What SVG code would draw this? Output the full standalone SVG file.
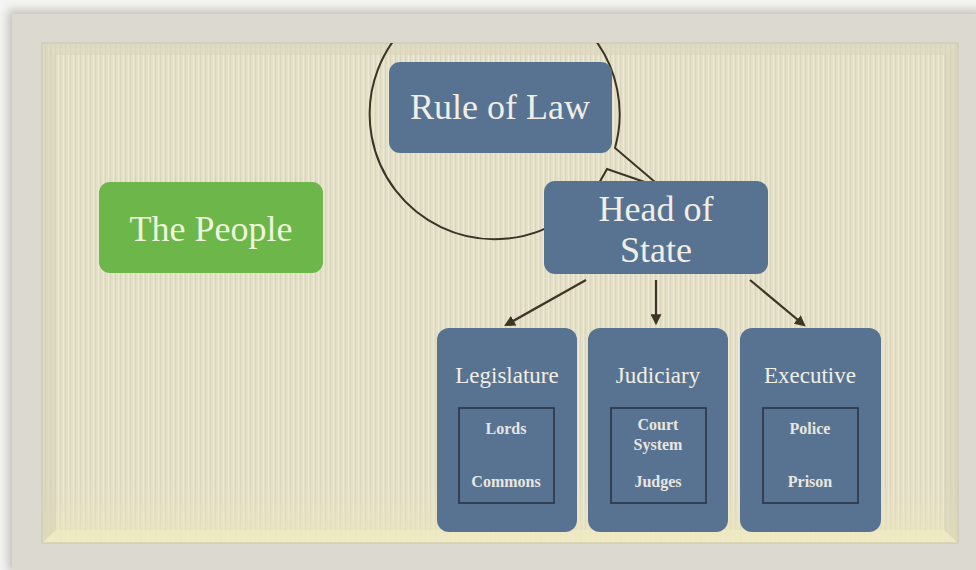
<svg xmlns="http://www.w3.org/2000/svg" width="976" height="570" viewBox="0 0 976 570">
<defs>
<style>
.box{fill:#587391;}
.inner{fill:none;stroke:#2c3442;stroke-width:1.6;}
.t{font-family:"Liberation Serif","Times New Roman",serif;fill:#f1eee6;text-anchor:middle;}
.big{font-size:36px;}
.mid{font-size:23px;}
.sm{font-size:16px;font-weight:bold;fill:#e8e6e0;}
.conn{fill:none;stroke:#3e3525;stroke-width:2.2;}
.bubble{fill:none;stroke:#3a3426;stroke-width:2;}
</style>
<pattern id="tex" width="5" height="7" patternUnits="userSpaceOnUse">
<rect width="5" height="7" fill="#e4e0c8"/>
<rect x="0" width="1" height="7" fill="#d7d3ba" opacity="0.8"/>
<rect x="3" width="1" height="7" fill="#eeebd7" opacity="0.8"/>
</pattern>
<linearGradient id="bottomGlow" x1="0" y1="0" x2="0" y2="1">
<stop offset="0" stop-color="#e7e3c4" stop-opacity="0"/>
<stop offset="1" stop-color="#ece6b8" stop-opacity="0.8"/>
</linearGradient>
<filter id="sh" x="-5%" y="-5%" width="110%" height="110%">
<feGaussianBlur stdDeviation="5"/>
</filter>
<clipPath id="canvasClip"><rect x="42" y="43" width="916" height="500"/></clipPath>
<marker id="arr" viewBox="0 0 10 10" refX="8" refY="5" markerWidth="5" markerHeight="5" orient="auto">
<path d="M0,0 L10,5 L0,10 z" fill="#3e3525"/>
</marker>
</defs>
<rect width="976" height="570" fill="#f4f4f2"/>
<rect x="8" y="10" width="975" height="562" fill="#9a978f" opacity="0.55" filter="url(#sh)"/>
<rect x="12" y="14" width="970" height="556" fill="#dcd9d0"/>
<rect x="42" y="43" width="916" height="500" fill="url(#tex)"/>
<rect x="42" y="480" width="916" height="63" fill="url(#bottomGlow)"/>
<path d="M42,43 L958,43 L944,55 L56,55 Z" fill="#d9d5bd" opacity="0.6"/>
<path d="M42,43 L56,55 L56,530 L42,543 Z" fill="#d3cfb5" opacity="0.5"/>
<path d="M958,43 L944,55 L944,530 L958,543 Z" fill="#d3cfb5" opacity="0.5"/>
<path d="M42,543 L56,530 L944,530 L958,543 Z" fill="#f0ebc4" opacity="0.7"/>
<rect x="42" y="43" width="916" height="500" fill="none" stroke="#c9c5ad" stroke-width="1"/>

<g id="bubble" clip-path="url(#canvasClip)">
<path class="bubble" d="M615,148 A125,125 0 1 0 607,169 L662,188 Z" fill="none"/>
</g>

<g id="rule-of-law">
<rect class="box" x="389" y="62" width="223" height="91" rx="11"/>
<text class="t big" x="500" y="119">Rule of Law</text>
</g>

<g id="the-people">
<rect x="99" y="182" width="224" height="91" rx="11" fill="#6cb64a"/>
<text class="t big" x="211" y="241" style="fill:#eef5dc">The People</text>
</g>

<g id="head-of-state">
<rect class="box" x="544" y="181" width="224" height="93" rx="11"/>
<text class="t big" x="656" y="221">Head of</text>
<text class="t big" x="656" y="262">State</text>
</g>

<g id="connectors">
<line class="conn" x1="586" y1="280" x2="506" y2="325" marker-end="url(#arr)"/>
<line class="conn" x1="656" y1="280" x2="656" y2="323" marker-end="url(#arr)"/>
<line class="conn" x1="750" y1="280" x2="804" y2="325" marker-end="url(#arr)"/>
</g>

<g id="legislature">
<rect class="box" x="437" y="328" width="140" height="204" rx="12"/>
<text class="t mid" x="507" y="383">Legislature</text>
<rect class="inner" x="459" y="408" width="95" height="95"/>
<text class="t sm" x="506" y="434">Lords</text>
<text class="t sm" x="506" y="487">Commons</text>
</g>

<g id="judiciary">
<rect class="box" x="588" y="328" width="140" height="204" rx="12"/>
<text class="t mid" x="658" y="383">Judiciary</text>
<rect class="inner" x="611" y="408" width="95" height="95"/>
<text class="t sm" x="658" y="430">Court</text>
<text class="t sm" x="658" y="450">System</text>
<text class="t sm" x="658" y="487">Judges</text>
</g>

<g id="executive">
<rect class="box" x="740" y="328" width="141" height="204" rx="12"/>
<text class="t mid" x="810" y="383">Executive</text>
<rect class="inner" x="763" y="408" width="95" height="95"/>
<text class="t sm" x="810" y="434">Police</text>
<text class="t sm" x="810" y="487">Prison</text>
</g>
</svg>
